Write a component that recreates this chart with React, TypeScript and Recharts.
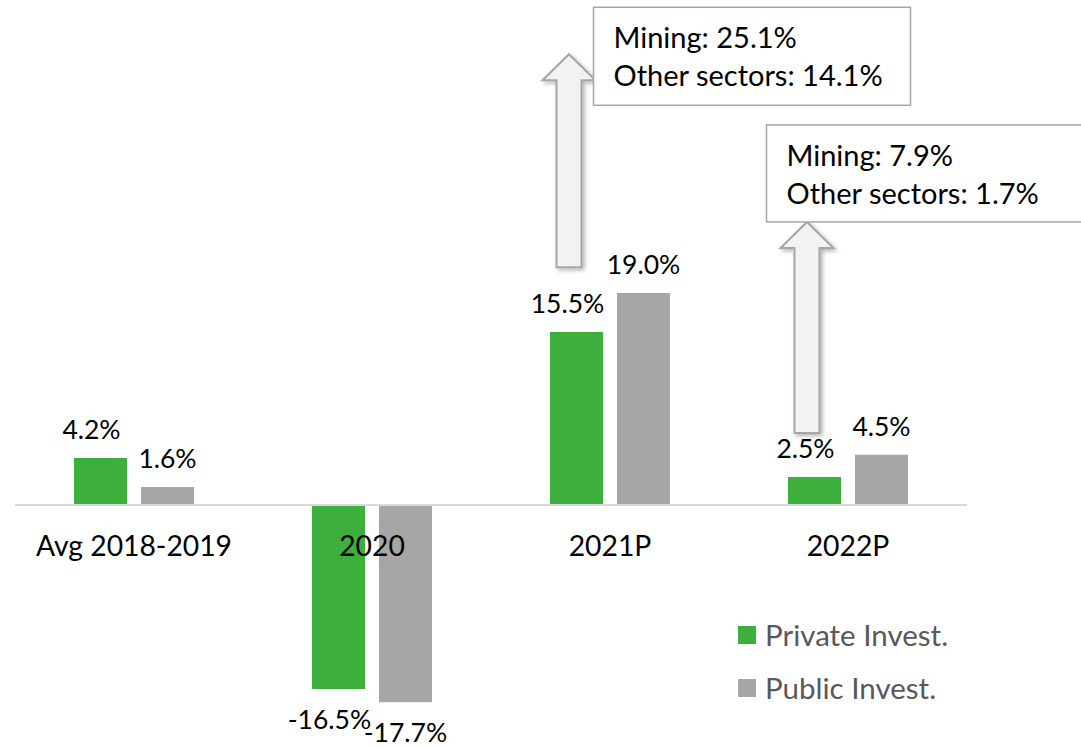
import React from 'react';
import { BarChart, Bar, XAxis, YAxis, ReferenceLine, ReferenceDot, LabelList, Legend } from 'recharts';

const categories = ['Avg 2018-2019', '2020', '2021P', '2022P'];
const privateInvest = [4.2, -16.5, 15.5, 2.5];
const publicInvest = [1.6, -17.7, 19.0, 4.5];
const seriesNames = ['Private Invest.', 'Public Invest.'];
const annotationCategories = ['2021P', '2022P'];
const annotationLines = [
  ['Mining: 25.1%', 'Other sectors: 14.1%'],
  ['Mining: 7.9%', 'Other sectors: 1.7%'],
];

const GREEN = '#3DAF3D';
const GRAY = '#A6A6A6';
const FONT = 'Lato, "Noto Sans", sans-serif';

const W = 1081;
const H = 747;
const MARGIN = { top: 226, right: 114, bottom: 18, left: 15 };
const X_AXIS_H = 1;
const Y_MIN = -20;
const Y_MAX = 25;
const PLOT_H = H - MARGIN.top - MARGIN.bottom - X_AXIS_H;
const ZERO_Y = MARGIN.top + (Y_MAX / (Y_MAX - Y_MIN)) * PLOT_H;

const data = categories.map((c, i) => ({
  cat: c,
  priv: privateInvest[i],
  pub: publicInvest[i],
}));

// annotation placement (layout only)
const annotationLayout = [
  { base: 21.3, dx: -41, length: 213, boxDx: 24.5, boxDy: -47, boxW: 317, boxH: 98 },
  { base: 6.45, dx: -41, length: 211, boxDx: -40.5, boxDy: -97, boxW: 340, boxH: 97 },
];

const makeValueLabel = (dx: number) => (props: any) => {
  const { x, y, width, height, value } = props;
  const top = Math.min(y, y + height);
  const bottom = Math.max(y, y + height);
  const cx = x + width / 2 + dx;
  const neg = value < 0;
  return (
    <text
      x={cx}
      y={neg ? bottom + 40 : top - 19}
      textAnchor="middle"
      fontFamily={FONT}
      fontSize={26.5}
      fill="#000"
    >
      {`${Number(value).toFixed(1)}%`}
    </text>
  );
};

const CatTick = (props: any) => {
  const { x, payload } = props;
  return (
    <text x={x} y={ZERO_Y + 51} textAnchor="middle" fontFamily={FONT} fontSize={28.3} fill="#000">
      {payload.value}
    </text>
  );
};

const makeAnnotation = (idx: number) => (props: any) => {
  const { cx, cy } = props;
  const L = annotationLayout[idx];
  const c = cx + L.dx;
  const bottom = cy;
  const tip = cy - L.length;
  const sw = 12.5;
  const hw = 26.5;
  const hh = 26;
  const pts = [
    [c - sw, bottom],
    [c - sw, tip + hh],
    [c - hw, tip + hh],
    [c, tip],
    [c + hw, tip + hh],
    [c + sw, tip + hh],
    [c + sw, bottom],
  ]
    .map((p) => p.join(','))
    .join(' ');
  const bx = c + L.boxDx;
  const by = tip + L.boxDy;
  const lines = annotationLines[idx];
  return (
    <g>
      <polygon points={pts} fill="#F2F2F2" stroke={GRAY} strokeWidth={2} filter="url(#arrowShadow)" />
      <rect x={bx} y={by} width={L.boxW} height={L.boxH} fill="#fff" stroke={GRAY} strokeWidth={1.5} />
      {lines.map((t, i) => (
        <text key={i} x={bx + 20} y={by + 41 + i * 38} fontFamily={FONT} fontSize={29} fill="#000">
          {t}
        </text>
      ))}
    </g>
  );
};

const LegendContent = () => {
  const colors = [GREEN, GRAY];
  return (
    <div style={{ fontFamily: FONT }}>
      {seriesNames.map((n, i) => (
        <div key={n} style={{ display: 'flex', alignItems: 'center', height: 53 }}>
          <div style={{ width: 18, height: 18, background: colors[i], marginRight: 9 }} />
          <span style={{ fontSize: 29.5, color: '#595959', lineHeight: '53px' }}>{n}</span>
        </div>
      ))}
    </div>
  );
};

export default function App() {
  return (
    <div style={{ position: 'absolute', left: 0, top: 0, width: W, height: H, background: '#fff' }}>
      <BarChart width={W} height={H} data={data} margin={MARGIN} barGap={14}>
        <defs>
          <filter id="arrowShadow" x="-50%" y="-10%" width="200%" height="130%">
            <feDropShadow dx={2} dy={2} stdDeviation={2} floodColor="#000" floodOpacity={0.3} />
          </filter>
        </defs>
        <XAxis
          dataKey="cat"
          axisLine={false}
          tickLine={false}
          height={X_AXIS_H}
          tick={<CatTick />}
          interval={0}
        />
        <YAxis hide domain={[Y_MIN, Y_MAX]} />
        <ReferenceLine y={0} stroke="#D9D9D9" strokeWidth={2} />
        <Bar dataKey="priv" name={seriesNames[0]} fill={GREEN} barSize={53} isAnimationActive={false}>
          <LabelList dataKey="priv" content={makeValueLabel(-9)} />
        </Bar>
        <Bar dataKey="pub" name={seriesNames[1]} fill={GRAY} barSize={53} isAnimationActive={false}>
          <LabelList dataKey="pub" content={makeValueLabel(0)} />
        </Bar>
        {annotationCategories.map((c, i) => (
          <ReferenceDot
            key={c}
            x={c}
            y={annotationLayout[i].base}
            r={0}
            ifOverflow="visible"
            shape={makeAnnotation(i)}
          />
        ))}
        <Legend
          content={<LegendContent />}
          wrapperStyle={{ position: 'absolute', left: 738, top: 608, width: 300, height: 0, overflow: 'visible' }}
        />
      </BarChart>
    </div>
  );
}
